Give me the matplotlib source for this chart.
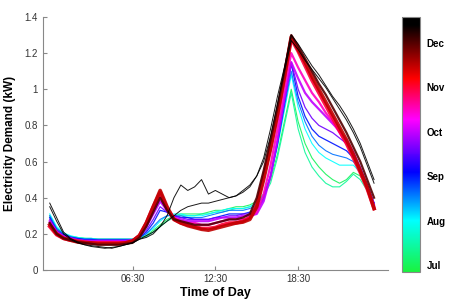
import numpy as np
import matplotlib.pyplot as plt
from matplotlib.colors import LinearSegmentedColormap, Normalize
from matplotlib.cm import ScalarMappable

plt.rcParams['font.family'] = ['Liberation Sans', 'DejaVu Sans']

# half-hourly readings, 00:30 .. 24:00
hours = np.arange(1, 49) * 0.5

# representative daily demand profiles (kW)
jul_a = [0.30, 0.23, 0.20, 0.185, 0.18, 0.175, 0.175, 0.17, 0.17, 0.17, 0.17, 0.17,
         0.17, 0.18, 0.19, 0.22, 0.25, 0.28, 0.30, 0.31, 0.31, 0.31, 0.31, 0.32,
         0.33, 0.33, 0.34, 0.35, 0.35, 0.36, 0.38, 0.42, 0.50, 0.64, 0.82, 1.00,
         0.82, 0.70, 0.62, 0.57, 0.53, 0.50, 0.48, 0.50, 0.54, 0.52, 0.45, 0.37]
jul_b = [0.29, 0.23, 0.20, 0.185, 0.18, 0.175, 0.17, 0.17, 0.17, 0.17, 0.17, 0.17,
         0.17, 0.175, 0.185, 0.21, 0.24, 0.27, 0.29, 0.30, 0.30, 0.30, 0.31, 0.31,
         0.32, 0.32, 0.33, 0.34, 0.34, 0.35, 0.37, 0.41, 0.48, 0.62, 0.80, 0.98,
         0.78, 0.65, 0.57, 0.52, 0.48, 0.46, 0.46, 0.49, 0.53, 0.50, 0.44, 0.36]
aug_a = [0.31, 0.24, 0.205, 0.19, 0.18, 0.175, 0.175, 0.17, 0.17, 0.17, 0.17, 0.17,
         0.17, 0.18, 0.20, 0.23, 0.27, 0.30, 0.31, 0.31, 0.30, 0.30, 0.30, 0.31,
         0.32, 0.33, 0.34, 0.34, 0.34, 0.35, 0.37, 0.42, 0.52, 0.68, 0.88, 1.08,
         0.90, 0.78, 0.70, 0.65, 0.62, 0.60, 0.58, 0.58, 0.58, 0.54, 0.46, 0.37]
aug_b = [0.30, 0.23, 0.20, 0.185, 0.175, 0.17, 0.17, 0.17, 0.17, 0.17, 0.17, 0.17,
         0.17, 0.18, 0.20, 0.24, 0.28, 0.30, 0.30, 0.30, 0.29, 0.29, 0.29, 0.30,
         0.31, 0.32, 0.33, 0.33, 0.33, 0.34, 0.36, 0.41, 0.52, 0.69, 0.90, 1.10,
         0.93, 0.82, 0.74, 0.69, 0.66, 0.64, 0.63, 0.62, 0.60, 0.55, 0.47, 0.37]
sep_a = [0.29, 0.22, 0.195, 0.18, 0.175, 0.17, 0.17, 0.165, 0.165, 0.165, 0.165, 0.165,
         0.165, 0.18, 0.21, 0.26, 0.33, 0.32, 0.30, 0.29, 0.29, 0.28, 0.28, 0.28,
         0.29, 0.30, 0.31, 0.31, 0.31, 0.32, 0.34, 0.40, 0.52, 0.70, 0.92, 1.14,
         0.96, 0.85, 0.78, 0.74, 0.72, 0.70, 0.68, 0.66, 0.62, 0.56, 0.47, 0.37]
sep_b = [0.28, 0.22, 0.19, 0.18, 0.17, 0.165, 0.165, 0.165, 0.165, 0.165, 0.165, 0.165,
         0.165, 0.185, 0.22, 0.28, 0.35, 0.32, 0.30, 0.29, 0.28, 0.28, 0.28, 0.28,
         0.29, 0.29, 0.30, 0.30, 0.31, 0.31, 0.33, 0.39, 0.52, 0.71, 0.93, 1.15,
         1.00, 0.90, 0.84, 0.80, 0.78, 0.76, 0.73, 0.70, 0.65, 0.57, 0.47, 0.37]
oct_a = [0.27, 0.21, 0.185, 0.175, 0.165, 0.16, 0.16, 0.16, 0.16, 0.16, 0.16, 0.16,
         0.165, 0.19, 0.24, 0.31, 0.38, 0.33, 0.29, 0.28, 0.27, 0.27, 0.27, 0.27,
         0.28, 0.29, 0.29, 0.29, 0.30, 0.30, 0.31, 0.38, 0.52, 0.72, 0.95, 1.15,
         1.06, 0.98, 0.93, 0.89, 0.85, 0.81, 0.77, 0.72, 0.65, 0.56, 0.46, 0.36]
oct_b = [0.26, 0.205, 0.18, 0.17, 0.16, 0.155, 0.155, 0.155, 0.155, 0.155, 0.155, 0.155,
         0.16, 0.19, 0.25, 0.33, 0.41, 0.34, 0.29, 0.27, 0.26, 0.26, 0.25, 0.25,
         0.26, 0.27, 0.28, 0.28, 0.28, 0.29, 0.32, 0.42, 0.58, 0.78, 1.00, 1.20,
         1.12, 1.05, 0.98, 0.93, 0.87, 0.82, 0.76, 0.70, 0.63, 0.55, 0.45, 0.35]
nov_a = [0.24, 0.195, 0.175, 0.165, 0.16, 0.155, 0.15, 0.15, 0.15, 0.15, 0.15, 0.15,
         0.16, 0.19, 0.26, 0.35, 0.43, 0.34, 0.28, 0.26, 0.25, 0.24, 0.23, 0.23,
         0.235, 0.25, 0.26, 0.26, 0.27, 0.29, 0.36, 0.52, 0.68, 0.86, 1.06, 1.28,
         1.21, 1.13, 1.05, 0.98, 0.91, 0.84, 0.77, 0.70, 0.62, 0.54, 0.45, 0.34]
nov_b = [0.25, 0.20, 0.175, 0.165, 0.155, 0.15, 0.15, 0.145, 0.145, 0.145, 0.145, 0.15,
         0.16, 0.19, 0.26, 0.35, 0.44, 0.35, 0.28, 0.26, 0.245, 0.235, 0.225, 0.22,
         0.23, 0.24, 0.25, 0.26, 0.265, 0.28, 0.35, 0.50, 0.67, 0.86, 1.07, 1.29,
         1.22, 1.15, 1.07, 1.00, 0.93, 0.86, 0.79, 0.72, 0.64, 0.55, 0.46, 0.34]
dec_a = [0.26, 0.20, 0.175, 0.165, 0.155, 0.15, 0.145, 0.14, 0.14, 0.14, 0.14, 0.145,
         0.15, 0.18, 0.24, 0.32, 0.40, 0.33, 0.28, 0.27, 0.26, 0.25, 0.25, 0.25,
         0.26, 0.27, 0.28, 0.28, 0.29, 0.31, 0.40, 0.55, 0.72, 0.90, 1.10, 1.30,
         1.24, 1.17, 1.10, 1.03, 0.97, 0.90, 0.83, 0.76, 0.68, 0.60, 0.50, 0.40]
dec_b = [0.37, 0.29, 0.21, 0.175, 0.155, 0.14, 0.135, 0.13, 0.125, 0.12, 0.13, 0.14,
         0.15, 0.17, 0.19, 0.21, 0.24, 0.27, 0.30, 0.33, 0.35, 0.36, 0.37, 0.37,
         0.38, 0.39, 0.40, 0.41, 0.43, 0.46, 0.52, 0.62, 0.78, 0.96, 1.12, 1.30,
         1.25, 1.19, 1.13, 1.08, 1.02, 0.96, 0.91, 0.85, 0.78, 0.70, 0.60, 0.50]
dec_c = [0.35, 0.27, 0.20, 0.17, 0.15, 0.14, 0.13, 0.125, 0.12, 0.125, 0.13, 0.14,
         0.15, 0.17, 0.18, 0.20, 0.24, 0.30, 0.40, 0.47, 0.44, 0.46, 0.50, 0.42,
         0.44, 0.42, 0.40, 0.41, 0.44, 0.47, 0.52, 0.60, 0.74, 0.92, 1.10, 1.27,
         1.22, 1.16, 1.11, 1.06, 1.01, 0.95, 0.89, 0.83, 0.76, 0.68, 0.58, 0.48]

profiles = [jul_a, jul_b, aug_a, aug_b, sep_a, sep_b, oct_a, oct_b,
            nov_a, nov_b, dec_a, dec_b, dec_c]
# position of each day on the month scale
day_month = [7.0, 7.4, 8.0, 8.6, 9.0, 9.6, 10.0, 10.5, 11.0, 11.5, 12.0, 12.4, 12.5]
widths = [0.8, 0.8, 0.8, 0.8, 0.9, 0.9, 1.6, 1.6, 2.6, 2.6, 1.6, 0.7, 0.7]

month_ticks = [7, 8, 9, 10, 11, 12]
month_labels = ['Jul', 'Aug', 'Sep', 'Oct', 'Nov', 'Dec']
time_ticks = [6.5, 12.5, 18.5]
time_labels = ['06:30', '12:30', '18:30']

cmap = LinearSegmentedColormap.from_list('season', [
    (0.0, (0.1, 0.95, 0.25)),
    (0.2, (0.0, 1.0, 1.0)),
    (0.39, (0.0, 0.0, 1.0)),
    (0.6, (1.0, 0.0, 1.0)),
    (0.76, (1.0, 0.0, 0.0)),
    (0.97, (0.0, 0.0, 0.0)),
    (1.0, (0.0, 0.0, 0.0))])
norm = Normalize(vmin=6.84, vmax=12.58)

fig = plt.figure(figsize=(4.51, 3.03), dpi=100)
ax = fig.add_axes([0.095, 0.109, 0.765, 0.835])
for prof, m, w in zip(profiles, day_month, widths):
    ax.plot(hours, prof, color=cmap(norm(m)), lw=w, alpha=0.9)

ax.set_xlim(0, 25)
ax.set_ylim(0, 1.4)
ax.set_xticks(time_ticks)
ax.set_xticklabels(time_labels)
ax.set_yticks([0, 0.2, 0.4, 0.6, 0.8, 1.0, 1.2, 1.4])
ax.set_yticklabels(['0', '0.2', '0.4', '0.6', '0.8', '1', '1.2', '1.4'])
ax.tick_params(direction='in', length=3, labelsize=7, colors='#888888',
               labelcolor='#333333')
ax.tick_params(axis='x', pad=3)
for s in ['top', 'right']:
    ax.spines[s].set_visible(False)
for s in ['left', 'bottom']:
    ax.spines[s].set_color('#888888')
ax.set_xlabel('Time of Day', fontsize=9, fontweight='bold', labelpad=2)
ax.set_ylabel('Electricity Demand (kW)', fontsize=8.5, fontweight='bold', labelpad=6)

cax = fig.add_axes([0.891, 0.102, 0.04, 0.842])
sm = ScalarMappable(norm=norm, cmap=cmap)
cb = fig.colorbar(sm, cax=cax, ticks=month_ticks)
cb.ax.set_yticklabels(month_labels, fontsize=7, fontweight='bold')
cb.ax.tick_params(length=0, pad=5)
cb.outline.set_edgecolor('#888888')

fig.savefig('out.png', dpi=100)
